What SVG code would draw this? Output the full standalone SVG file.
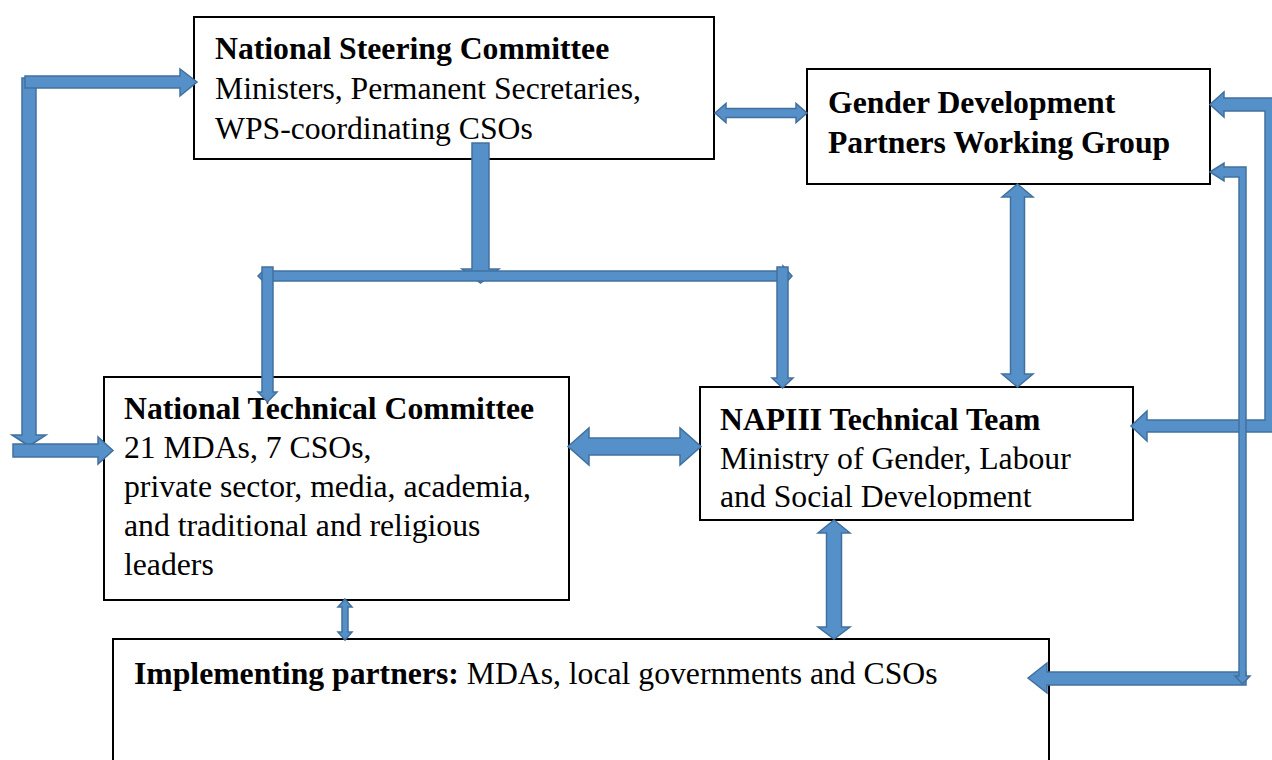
<svg xmlns="http://www.w3.org/2000/svg" width="1272" height="760" viewBox="0 0 1272 760">
<defs>
<style>
.box{fill:#ffffff;stroke:#000000;stroke-width:2}
.t{font-family:"Liberation Serif","Times New Roman",serif;font-size:31.7px;fill:#000000}
.b{font-weight:bold}
.ar{fill:#5590c8;stroke:#41709f;stroke-width:1.5;stroke-linejoin:miter}
</style>
<clipPath id="napclip"><rect x="700" y="387" width="433" height="122"/></clipPath>
</defs>
<rect width="1272" height="760" fill="#ffffff"/>

<g id="nsc">
<rect class="box" x="194" y="17" width="520" height="142"/>
<text class="t b" x="215" y="59">National Steering Committee</text>
<text class="t" x="215" y="99">Ministers, Permanent Secretaries,</text>
<text class="t" x="215" y="139">WPS-coordinating CSOs</text>
</g>

<g id="gdpwg">
<rect class="box" x="807" y="69" width="403" height="115"/>
<text class="t b" x="828" y="113">Gender Development</text>
<text class="t b" x="828" y="153">Partners Working Group</text>
</g>

<g id="ntc">
<rect class="box" x="104" y="377" width="465" height="223"/>
<text class="t b" x="124" y="419">National Technical Committee</text>
<text class="t" x="124" y="458">21 MDAs, 7 CSOs,</text>
<text class="t" x="124" y="497">private sector, media, academia,</text>
<text class="t" x="124" y="536">and traditional and religious</text>
<text class="t" x="124" y="575">leaders</text>
</g>

<g id="napiii">
<rect class="box" x="700" y="387" width="433" height="133"/>
<g clip-path="url(#napclip)">
<text class="t b" x="720" y="430">NAPIII Technical Team</text>
<text class="t" x="720" y="469">Ministry of Gender, Labour</text>
<text class="t" x="720" y="507">and Social Development</text>
</g>
</g>

<g id="implementing">
<rect class="box" x="113" y="639" width="936" height="140"/>
<text class="t" x="134" y="684"><tspan class="b">Implementing partners:</tspan> MDAs, local governments and CSOs</text>
</g>

<g id="connectors">
<!-- left bent arrow NSC <-> NTC -->
<polygon class="ar" points="22,78 36,78 36,435 46,435 29,446 12,435 22,435"/>
<polygon class="ar" points="25,76 180,76 180,69 197,82 180,96 180,88 25,88"/>
<polygon class="ar" points="13,444 98,444 98,437 113,450.5 98,464 98,457 13,457"/>
<!-- NSC <-> GDPWG -->
<polygon class="ar" points="715,113 726,103.5 726,108.5 796,108.5 796,103.5 807,113 796,122.5 796,117.5 726,117.5 726,122.5"/>
<!-- NSC down split -->
<polygon class="ar" points="472,143 489,143 489,269 499,269 480.5,283 462,269 472,269"/>
<polygon class="ar" points="258,276 266,268 266,271 783,271 783,266 792,276 783,286 783,281 266,281 266,284"/>
<polygon class="ar" points="262,267 273,267 273,392 277,392 267.5,402 258,392 262,392"/>
<polygon class="ar" points="777,267 788,267 788,378 793,378 782.5,388 772,378 777,378"/>
<!-- NTC <-> NAPIII -->
<polygon class="ar" points="568,446.5 589,428 589,438 680,438 680,428 701,446.5 680,465 680,455 589,455 589,465"/>
<!-- GDPWG <-> NAPIII -->
<polygon class="ar" points="1017.5,184 1033,197 1024.5,197 1024.5,374 1033,374 1017.5,387 1002,374 1010.5,374 1010.5,197 1002,197"/>
<!-- NTC <-> Implementing -->
<polygon class="ar" points="345,599 352,607 348,607 348,632 352,632 345,640 338,632 342,632 342,607 338,607"/>
<!-- NAPIII <-> Implementing -->
<polygon class="ar" points="834,520 850,533 841.5,533 841.5,627 850,627 834,639 818,627 826.5,627 826.5,533 818,533"/>
<!-- GDPWG <-> NAPIII outer right -->
<polygon class="ar" points="1210,104.5 1224,92 1224,98 1277,98 1277,432 1147,432 1147,441 1131,426 1147,411 1147,420 1265,420 1265,111 1224,111 1224,117"/>
<!-- GDPWG <-> Implementing inner right -->
<polygon class="ar" points="1028,678 1047,663 1047,672 1246,672 1246,685 1047,685 1047,693"/>
<polygon class="ar" points="1210,172 1224,163 1224,167 1246,167 1246,676 1250,676 1242.5,684 1235,676 1239,676 1239,177 1224,177 1224,181"/>
</g>
</svg>
